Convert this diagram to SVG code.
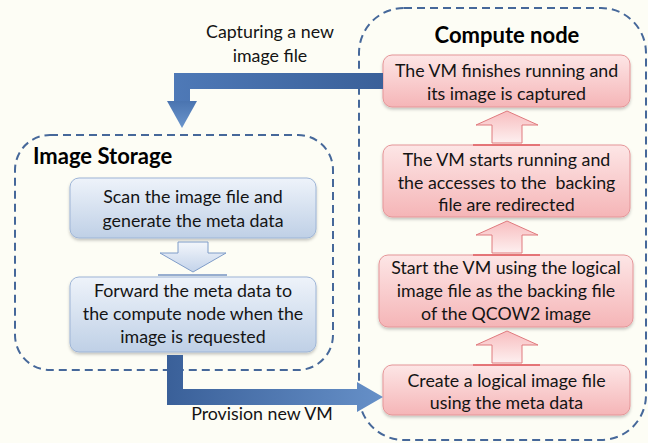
<svg xmlns="http://www.w3.org/2000/svg" width="648" height="443" viewBox="0 0 648 443">
<defs>
<linearGradient id="gBlue" x1="0" y1="0" x2="0" y2="1"><stop offset="0" stop-color="#EEF3FA"/><stop offset="1" stop-color="#BFD0E6"/></linearGradient>
<linearGradient id="gPink" x1="0" y1="0" x2="0" y2="1"><stop offset="0" stop-color="#FDE6E6"/><stop offset="1" stop-color="#F5B5B7"/></linearGradient>
<linearGradient id="gPinkArrow" x1="0" y1="0" x2="0" y2="1"><stop offset="0" stop-color="#F8BDBF"/><stop offset="1" stop-color="#FDF0F0"/></linearGradient>
<linearGradient id="gBlueArrow" x1="0" y1="0" x2="0" y2="1"><stop offset="0" stop-color="#F3F6FB"/><stop offset="1" stop-color="#C3D3EA"/></linearGradient>
<linearGradient id="gTop" x1="383" y1="0" x2="167" y2="0" gradientUnits="userSpaceOnUse"><stop offset="0" stop-color="#3A6099"/><stop offset="1" stop-color="#4F7AB8"/></linearGradient>
<linearGradient id="gTopHead" x1="0" y1="101" x2="0" y2="128" gradientUnits="userSpaceOnUse"><stop offset="0" stop-color="#4A74B0"/><stop offset="1" stop-color="#6A95CC"/></linearGradient>
<linearGradient id="gBot" x1="167" y1="0" x2="383" y2="0" gradientUnits="userSpaceOnUse"><stop offset="0" stop-color="#3A6099"/><stop offset="1" stop-color="#6690C8"/></linearGradient>
<filter id="sh" x="-10%" y="-10%" width="120%" height="130%"><feDropShadow dx="0" dy="2" stdDeviation="1.5" flood-color="#000" flood-opacity="0.22"/></filter>
</defs>
<style>
.grp{fill:none;stroke:#46689A;stroke-width:2;stroke-dasharray:8 5}
.bbox{fill:url(#gBlue);stroke:#9DB4D6;stroke-width:1}
.pbox{fill:url(#gPink);stroke:#E59598;stroke-width:1}
.t{font-family:Lato,"Liberation Sans",sans-serif;font-size:17.8px;fill:#141414;text-anchor:middle;white-space:pre}
.title{font-family:Lato,"Liberation Sans",sans-serif;font-size:22px;font-weight:bold;fill:#000}
.parrow{fill:url(#gPinkArrow);stroke:#E07A7E;stroke-width:1}
</style>
<rect width="648" height="443" fill="#FDFDF5"/>

<g id="compute-node">
<rect class="grp" x="359" y="8" width="287" height="432" rx="45"/>
<text class="title" x="507" y="43" text-anchor="middle">Compute node</text>
</g>
<g id="image-storage">
<rect class="grp" x="15" y="135" width="318" height="235" rx="35"/>
<text class="title" x="33" y="164">Image Storage</text>
</g>

<g id="scan">
<rect class="bbox" x="70" y="178" width="246" height="60" rx="9" filter="url(#sh)"/>
<text class="t" x="193" y="203">Scan the image file and</text>
<text class="t" x="193" y="227">generate the meta data</text>
</g>
<g id="forward">
<rect class="bbox" x="70" y="277" width="246" height="75" rx="9" filter="url(#sh)"/>
<text class="t" x="193" y="297">Forward the meta data to</text>
<text class="t" x="193" y="320">the compute node when the</text>
<text class="t" x="193" y="343">image is requested</text>
</g>

<g id="vm-finish">
<rect class="pbox" x="383" y="55" width="247" height="52" rx="9" filter="url(#sh)"/>
<text class="t" x="506.5" y="77">The VM finishes running and</text>
<text class="t" x="506.5" y="100">its image is captured</text>
</g>
<g id="vm-start">
<rect class="pbox" x="383" y="145" width="247" height="72" rx="9" filter="url(#sh)"/>
<text class="t" x="506.5" y="166">The VM starts running and</text>
<text class="t" x="506.5" y="189">the accesses to the  backing</text>
<text class="t" x="506.5" y="211">file are redirected</text>
</g>
<g id="start-vm">
<rect class="pbox" x="379" y="255" width="254" height="72" rx="9" filter="url(#sh)"/>
<text class="t" x="506" y="274">Start the VM using the logical</text>
<text class="t" x="506" y="297">image file as the backing file</text>
<text class="t" x="506" y="320">of the QCOW2 image</text>
</g>
<g id="create-logical">
<rect class="pbox" x="383" y="365" width="247" height="50" rx="9" filter="url(#sh)"/>
<text class="t" x="506.5" y="387">Create a logical image file</text>
<text class="t" x="506.5" y="409">using the meta data</text>
</g>

<g id="connectors">
<path d="M383,73 L174,73 L174,101 L190,101 L190,89 L383,89 Z" fill="url(#gTop)"/>
<path d="M167,101 L182,128 L197,101 Z" fill="url(#gTopHead)"/>
<path d="M167,355 L167,405 L357,405 L357,412 L383,397 L357,382 L357,389 L183,389 L183,355 Z" fill="url(#gBot)"/>
<path d="M178,242 L208,242 L208,253 L226,253 L193,272 L160,253 L178,253 Z" fill="url(#gBlueArrow)" stroke="#7F9CC8" stroke-width="1"/>
<line x1="158" y1="275" x2="227" y2="275" stroke="#7693C2" stroke-width="1.5"/>
<path class="parrow" d="M492,143 L492,125 L476,125 L507,111 L538,125 L522,125 L522,143 Z"/>
<line x1="473" y1="145" x2="540" y2="145" stroke="#E05A5E" stroke-width="1.5"/>
<path class="parrow" d="M492,253 L492,235 L476,235 L507,221 L538,235 L522,235 L522,253 Z"/>
<line x1="473" y1="255" x2="540" y2="255" stroke="#E05A5E" stroke-width="1.5"/>
<path class="parrow" d="M492,363 L492,345 L476,345 L507,331 L538,345 L522,345 L522,363 Z"/>
<line x1="473" y1="365" x2="540" y2="365" stroke="#E05A5E" stroke-width="1.5"/>
<text class="t" x="270" y="38">Capturing a new</text>
<text class="t" x="270" y="62">image file</text>
<text class="t" x="262" y="420">Provision new VM</text>
</g>
</svg>
